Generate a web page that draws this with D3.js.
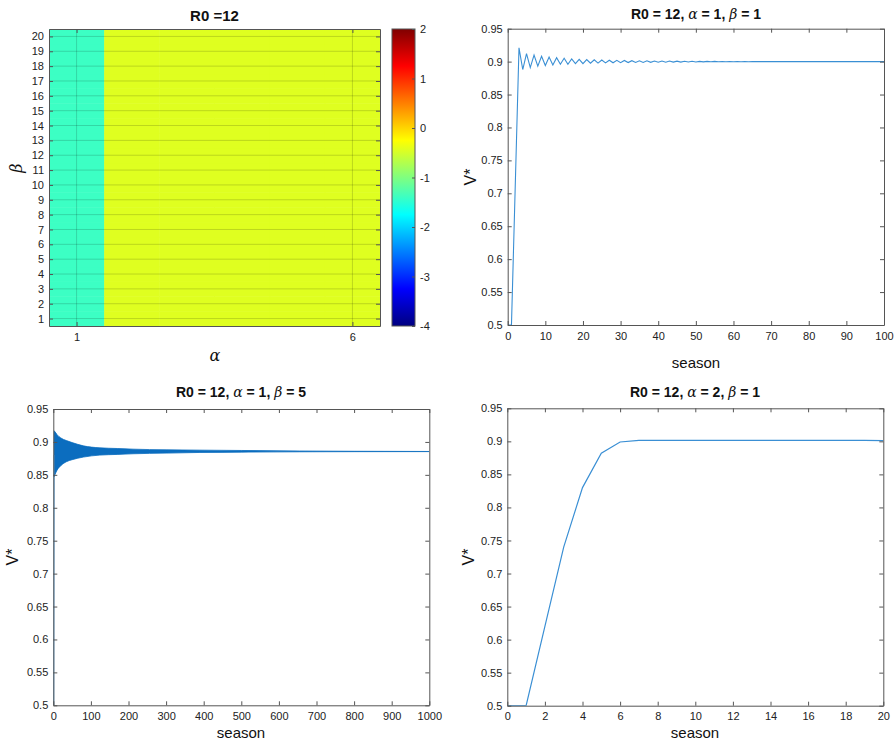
<!DOCTYPE html>
<html>
<head>
<meta charset="utf-8">
<script src="https://cdn.jsdelivr.net/npm/d3@7"></script>
<style>
  body { margin: 0; background: #fff; }
  svg { font-family: "Liberation Sans", Arial, Helvetica, sans-serif; }
  .tick text { fill: #222; font-size: 11px; }
</style>
</head>
<body>
<svg id="chart" width="896" height="746"></svg>
<script>
// ===== Data =====
// heatmap: R0 = 12
const heatAlpha = [1, 2, 3, 4, 5, 6];
const heatBeta = [1, 2, 3, 4, 5, 6, 7, 8, 9, 10, 11, 12, 13, 14, 15, 16, 17, 18, 19, 20];
const heatByAlpha = [-1.4, -0.44, -0.44, -0.44, -0.44, -0.44]; // same value for every beta
const heatAlphaTicks = [1, 6];
const cbarTicks = [-4, -3, -2, -1, 0, 1, 2];

// V* per season, index = season
const vA1B1 = [
  0.5, 0.5, 0.71, 0.921, 0.888, 0.912, 0.891, 0.910, 0.893, 0.908,
  0.894, 0.907, 0.895, 0.906, 0.896, 0.905, 0.896, 0.904, 0.897, 0.9035,
  0.897, 0.903, 0.8975, 0.9027, 0.8978, 0.9024, 0.898, 0.9021, 0.8982, 0.9019,
  0.8984, 0.9017, 0.8986, 0.9015, 0.8987, 0.9013, 0.8988, 0.9012, 0.8989, 0.901,
  0.899, 0.9009, 0.8991, 0.9008, 0.8992, 0.9007, 0.8993, 0.9006, 0.8994, 0.9005,
  0.8995, 0.9004, 0.8996, 0.9003, 0.8997, 0.9003, 0.8997, 0.9002, 0.8998, 0.9002,
  0.8998, 0.9001, 0.8999, 0.9001, 0.8999, 0.9, 0.9, 0.9, 0.9, 0.9,
  0.9, 0.9, 0.9, 0.9, 0.9, 0.9, 0.9, 0.9, 0.9, 0.9,
  0.9, 0.9, 0.9, 0.9, 0.9, 0.9, 0.9, 0.9, 0.9, 0.9,
  0.9, 0.9, 0.9, 0.9, 0.9, 0.9, 0.9, 0.9, 0.9, 0.9,
  0.9
];

// alpha=1, beta=5: fast period-2 oscillation, drawn as its envelope
const bandSeason = [2, 5, 10, 20, 35, 50, 80, 124, 170, 212, 300, 390, 500, 655, 800, 1000];
const bandUpper = [0.917, 0.915, 0.911, 0.906, 0.902, 0.899, 0.894, 0.891, 0.890, 0.889, 0.888, 0.8875, 0.887, 0.8862, 0.8858, 0.8855];
const bandLower = [0.847, 0.851, 0.857, 0.864, 0.870, 0.873, 0.877, 0.880, 0.881, 0.882, 0.883, 0.884, 0.8845, 0.8850, 0.8852, 0.8853];
const startSeason = [0, 1, 2];
const startV = [0.5, 0.5, 0.88];

const vA2B1 = [0.5, 0.5, 0.62, 0.74, 0.830, 0.882, 0.899, 0.9015, 0.9015, 0.9015,
  0.9015, 0.9015, 0.9015, 0.9015, 0.9015, 0.9015, 0.9015, 0.9015, 0.9015, 0.9015, 0.901];

const vTicks = [0.5, 0.55, 0.6, 0.65, 0.7, 0.75, 0.8, 0.85, 0.9, 0.95];
const ticksB = [0, 10, 20, 30, 40, 50, 60, 70, 80, 90, 100];
const ticksC = [0, 100, 200, 300, 400, 500, 600, 700, 800, 900, 1000];
const ticksD = [0, 2, 4, 6, 8, 10, 12, 14, 16, 18, 20];

// ===== Style =====
const AX = "#555";
const LINE = "#3a8fd4";
const BAND = "#0b6dbf";
const TICK = 4;
const plain = d => String(d); // keep ASCII hyphen like the original

// MATLAB jet
const jet = d3.scaleLinear()
  .domain([-4, -3.25, -1.75, -0.25, 1.25, 2])
  .range(["#000080", "#0000ff", "#00ffff", "#ffff00", "#ff0000", "#800000"]);

const svg = d3.select("#chart");

function styleAxis(g) {
  g.selectAll("path.domain").attr("stroke", AX).attr("stroke-width", 1);
  g.selectAll(".tick line").attr("stroke", AX);
  g.selectAll(".tick text").attr("font-family", null).attr("font-size", null);
}

// box with inward ticks on all four sides
function drawBox(g, x, y, w, h, xTicks, yTicks) {
  const gb = g.append("g").attr("transform", `translate(0,${h})`)
    .call(d3.axisBottom(x).tickValues(xTicks).tickSizeInner(-TICK).tickSizeOuter(0).tickPadding(7).tickFormat(plain));
  const gt = g.append("g")
    .call(d3.axisTop(x).tickValues(xTicks).tickSizeInner(-TICK).tickSizeOuter(0).tickFormat(""));
  const gl = g.append("g")
    .call(d3.axisLeft(y).tickValues(yTicks).tickSizeInner(-TICK).tickSizeOuter(0).tickPadding(5).tickFormat(plain));
  const gr = g.append("g").attr("transform", `translate(${w},0)`)
    .call(d3.axisRight(y).tickValues(yTicks).tickSizeInner(-TICK).tickSizeOuter(0).tickFormat(""));
  [gb, gt, gl, gr].forEach(styleAxis);
}

function title(parts, cx, y, size) {
  const t = svg.append("text").attr("x", cx).attr("y", y).attr("text-anchor", "middle")
    .attr("font-size", size).attr("fill", "#111");
  parts.forEach(p => {
    t.append("tspan").text(p.t)
      .attr("font-weight", p.greek ? "normal" : "bold")
      .attr("font-style", p.greek ? "italic" : null)
      .attr("font-family", p.greek ? "'DejaVu Serif', serif" : null);
  });
}

function greekTitle(a, b) {
  return [{ t: "R0 = 12, " }, { t: "α", greek: true }, { t: ` = ${a}, ` }, { t: "β", greek: true }, { t: ` = ${b}` }];
}

function vLabel(x, y) {
  svg.append("text").attr("transform", `translate(${x},${y}) rotate(-90)`)
    .attr("text-anchor", "middle").attr("font-size", 16).attr("fill", "#111").text("V*");
}
function seasonLabel(x, y) {
  svg.append("text").attr("x", x).attr("y", y).attr("text-anchor", "middle")
    .attr("font-size", 15).attr("fill", "#111").text("season");
}

// ===== Heatmap =====
(function () {
  const L = 49, T = 29, W = 331, H = 297;
  const g = svg.append("g").attr("transform", `translate(${L},${T})`);
  const x = d3.scaleLinear().domain([0.5, 6.5]).range([0, W]);
  const y = d3.scaleLinear().domain([0.5, 20.5]).range([H, 0]);

  const cells = [];
  heatAlpha.forEach((a, i) => heatBeta.forEach(b => cells.push({ a, b, v: heatByAlpha[i] })));
  g.selectAll("rect.cell").data(cells).join("rect").attr("class", "cell")
    .attr("x", d => x(d.a - 0.5)).attr("y", d => y(d.b + 0.5))
    .attr("width", d => x(d.a + 0.5) - x(d.a - 0.5) + 0.5)
    .attr("height", d => y(d.b - 0.5) - y(d.b + 0.5) + 0.5)
    .attr("fill", d => jet(d.v));

  // grid
  g.selectAll("line.hg").data(heatBeta).join("line").attr("class", "hg")
    .attr("x1", 0).attr("x2", W).attr("y1", d => y(d)).attr("y2", d => y(d))
    .attr("stroke", "#000").attr("stroke-opacity", 0.16);
  g.selectAll("line.vg").data(heatAlphaTicks).join("line").attr("class", "vg")
    .attr("y1", 0).attr("y2", H).attr("x1", d => x(d)).attr("x2", d => x(d))
    .attr("stroke", "#000").attr("stroke-opacity", 0.16);

  drawBox(g, x, y, W, H, heatAlphaTicks, heatBeta);

  title([{ t: "R0 =12" }], L + W / 2, 21, 15);
  svg.append("text").attr("x", 215).attr("y", 361).attr("text-anchor", "middle")
    .attr("font-size", 16).attr("font-style", "italic").attr("font-family", "'DejaVu Serif', serif")
    .attr("fill", "#111").text("α");
  svg.append("text").attr("transform", "translate(22,168) rotate(-90)").attr("text-anchor", "middle")
    .attr("font-size", 16).attr("font-style", "italic").attr("font-family", "'DejaVu Serif', serif")
    .attr("fill", "#111").text("β");

  // colorbar
  const CL = 392, CW = 23;
  const cy = d3.scaleLinear().domain([-4, 2]).range([T + H, T]);
  const grad = svg.append("defs").append("linearGradient").attr("id", "jetgrad")
    .attr("x1", 0).attr("y1", 1).attr("x2", 0).attr("y2", 0);
  grad.selectAll("stop").data(jet.domain()).join("stop")
    .attr("offset", d => (d + 4) / 6).attr("stop-color", d => jet(d));
  svg.append("rect").attr("x", CL).attr("y", T).attr("width", CW).attr("height", H)
    .attr("fill", "url(#jetgrad)").attr("stroke", AX);
  const ca = svg.append("g").attr("transform", `translate(${CL + CW},0)`)
    .call(d3.axisRight(cy).tickValues(cbarTicks).tickSizeInner(-3).tickSizeOuter(0).tickPadding(5).tickFormat(plain));
  styleAxis(ca);
  ca.select("path.domain").remove();
})();

// ===== Line panels =====
function linePanel(L, T, W, H, xMax, xTicks) {
  const g = svg.append("g").attr("transform", `translate(${L},${T})`);
  const x = d3.scaleLinear().domain([0, xMax]).range([0, W]);
  const y = d3.scaleLinear().domain([0.5, 0.95]).range([H, 0]);
  const id = "clip" + Math.round(L) + "_" + Math.round(T);
  g.append("clipPath").attr("id", id).append("rect").attr("width", W).attr("height", H);
  const plot = g.append("g").attr("clip-path", `url(#${id})`);
  drawBox(g, x, y, W, H, xTicks, vTicks);
  return { g, plot, x, y };
}

// alpha = 1, beta = 1
(function () {
  const p = linePanel(507.7, 28.7, 376.3, 296.3, 100, ticksB);
  p.plot.append("path").datum(vA1B1)
    .attr("d", d3.line().x((d, i) => p.x(i)).y(d => p.y(d)))
    .attr("fill", "none").attr("stroke", LINE).attr("stroke-width", 1.1);
  title(greekTitle(1, 1), 696, 19, 14);
  vLabel(476, 177);
  seasonLabel(696, 368);
})();

// alpha = 1, beta = 5
(function () {
  const p = linePanel(53.3, 409, 376, 296.3, 1000, ticksC);
  const band = bandSeason.map((s, i) => ({ s, hi: bandUpper[i], lo: bandLower[i] }));
  p.plot.append("path").datum(band)
    .attr("d", d3.area().curve(d3.curveMonotoneX).x(d => p.x(d.s)).y0(d => p.y(d.lo)).y1(d => p.y(d.hi)))
    .attr("fill", BAND).attr("stroke", BAND).attr("stroke-width", 0.8);
  p.plot.append("path").datum(startSeason.map((s, i) => [s, startV[i]]))
    .attr("d", d3.line().x(d => p.x(d[0])).y(d => p.y(d[1])))
    .attr("fill", "none").attr("stroke", LINE).attr("stroke-width", 1.1);
  title(greekTitle(1, 5), 241, 397, 14);
  vLabel(18, 557);
  seasonLabel(241, 738);
})();

// alpha = 2, beta = 1
(function () {
  const p = linePanel(507.3, 408.3, 376, 297.4, 20, ticksD);
  p.plot.append("path").datum(vA2B1)
    .attr("d", d3.line().x((d, i) => p.x(i)).y(d => p.y(d)))
    .attr("fill", "none").attr("stroke", LINE).attr("stroke-width", 1.2);
  title(greekTitle(2, 1), 695, 397, 14);
  vLabel(474, 557);
  seasonLabel(695, 738);
})();
</script>
</body>
</html>
